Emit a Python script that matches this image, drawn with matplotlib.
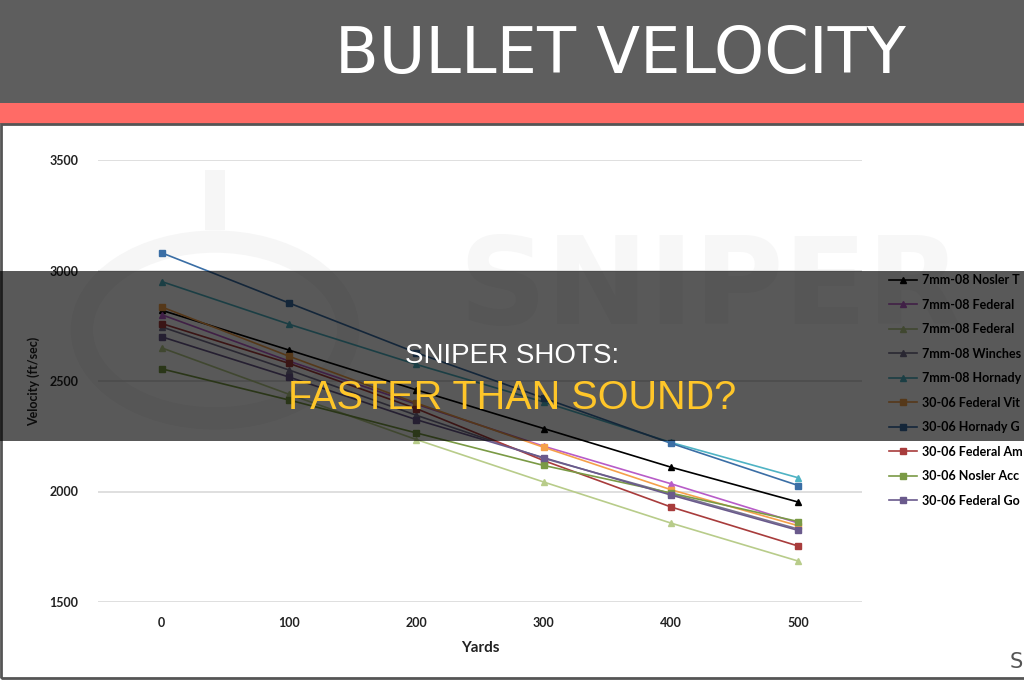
import matplotlib
matplotlib.use("Agg")
import matplotlib.pyplot as plt
from matplotlib.patches import Rectangle, Circle

# data
yards = [0, 100, 200, 300, 400, 500]
# legend text as it shows before the picture edge cuts it
names = ["7mm-08 Nosler T", "7mm-08 Federal", "7mm-08 Federal", "7mm-08 Winches",
         "7mm-08 Hornady", "30-06 Federal Vit", "30-06 Hornady G", "30-06 Federal Am",
         "30-06 Nosler Acc", "30-06 Federal Go"]
nosler_7mm = [2820, 2640, 2460, 2285, 2110, 1952]
fed_7mm_a = [2800, 2590, 2395, 2205, 2035, 1857]
fed_7mm_b = [2650, 2440, 2235, 2043, 1857, 1685]
winch_7mm = [2745, 2550, 2345, 2150, 1990, 1830]
horn_7mm = [2950, 2757, 2575, 2405, 2222, 2062]
fed_vital = [2835, 2612, 2400, 2200, 2008, 1845]
horn_gmx = [3080, 2853, 2628, 2423, 2218, 2027]
fed_ae = [2760, 2580, 2375, 2140, 1930, 1753]
nosler_acc = [2555, 2414, 2265, 2118, 1993, 1864]
fed_gm = [2700, 2518, 2325, 2153, 1984, 1824]
series = [nosler_7mm, fed_7mm_a, fed_7mm_b, winch_7mm, horn_7mm,
          fed_vital, horn_gmx, fed_ae, nosler_acc, fed_gm]
colors = ["#000000", "#B85CC8", "#B8CC8A", "#77728F", "#4FB3C4",
          "#F5A04A", "#3A6EA5", "#A83C3C", "#7A9A45", "#6A5A8C"]
markers = ["^", "^", "^", "^", "^", "s", "s", "s", "s", "s"]

W, H = 1024, 680
def fx(x):
    return x / W
def fy(y):
    return 1 - y / H

fig = plt.figure(figsize=(10.24, 6.8), dpi=100)
fig.patch.set_facecolor("white")

# faint watermark behind the chart
fig.patches.append(Circle((fx(215), fy(330)), 0.13, transform=fig.transFigure, fill=False,
                          ec="#f6f6f6", lw=16, zorder=-2))
fig.patches.append(Rectangle((fx(205), fy(230)), 20 / W, 60 / H, transform=fig.transFigure,
                             fc="#f6f6f6", ec="none", zorder=-2))
fig.text(fx(710), fy(290), "SNIPER", fontsize=88, fontweight="bold", color="#f7f7f7",
         ha="center", va="center", zorder=-2)

ax = fig.add_axes([fx(98), fy(602), (862 - 98) / W, (602 - 160) / H])
ax.patch.set_visible(False)
for s, c, m, n in zip(series, colors, markers, names):
    ax.plot(yards, s, color=c, marker=m, markersize=5, lw=1.2, label=n)

ax.set_xlim(-50, 550)
ax.set_ylim(1500, 3500)
ax.set_yticks([1500, 2000, 2500, 3000, 3500])
ax.set_xticks(yards)
ax.grid(axis="y", color="#d9d9d9", lw=1.2)
ax.set_axisbelow(True)
for sp in ax.spines.values():
    sp.set_visible(False)
ax.tick_params(length=0, labelsize=9, labelcolor="#222222")
ax.tick_params(axis="x", pad=11)
ax.tick_params(axis="y", pad=14)
for lab in ax.get_xticklabels() + ax.get_yticklabels():
    lab.set_fontweight("bold")
    lab.set_family("Lato")
ax.set_xlabel("Yards", fontsize=11, fontweight="bold", family="Lato", color="#222222")
ax.set_ylabel("Velocity (ft/sec)", fontsize=9, fontweight="bold", family="Lato", color="#222222")
ax.xaxis.set_label_coords(0.5, (602 - 641) / 442)
ax.yaxis.set_label_coords((40 - 98) / 764, 0.5)

leg = ax.legend(loc="upper left", bbox_to_anchor=(fx(878), fy(263)), bbox_transform=fig.transFigure,
                frameon=False, handlelength=2.2, handletextpad=0.4, labelspacing=1.0,
                prop={"family": "Lato", "weight": "bold", "size": 9})

# header band
fig.patches.append(Rectangle((0, fy(103)), 1, 103 / H, transform=fig.transFigure,
                             fc="#5e5e5e", ec="none", zorder=3))
fig.patches.append(Rectangle((0, fy(124)), 1, 21 / H, transform=fig.transFigure,
                             fc="#ff6b66", ec="none", zorder=3))
fig.text(fx(620), fy(73), "BULLET VELOCITY", fontsize=46, color="white",
         ha="center", va="baseline", zorder=4)

# frame around chart
fig.patches.append(Rectangle((fx(1), fy(678)), 1.2, (678 - 124) / H, transform=fig.transFigure,
                             fill=False, ec="#555555", lw=2, zorder=3))
fig.text(fx(1010), fy(662), "S", fontsize=15, color="#555555", ha="left", va="center", zorder=4)

# dark overlay band with headline
fig.patches.append(Rectangle((0, fy(441)), 1, (441 - 271) / H, transform=fig.transFigure,
                             fc="black", alpha=0.65, ec="none", zorder=5))
fig.text(0.5, fy(356), "SNIPER SHOTS:", fontsize=20, color="white", family="Liberation Sans",
         ha="center", va="center", zorder=6)
fig.text(0.5, fy(398), "FASTER THAN SOUND?", fontsize=28.5, color="#FFC629", family="Liberation Sans",
         ha="center", va="center", zorder=6)

fig.savefig("out.png", dpi=100)
